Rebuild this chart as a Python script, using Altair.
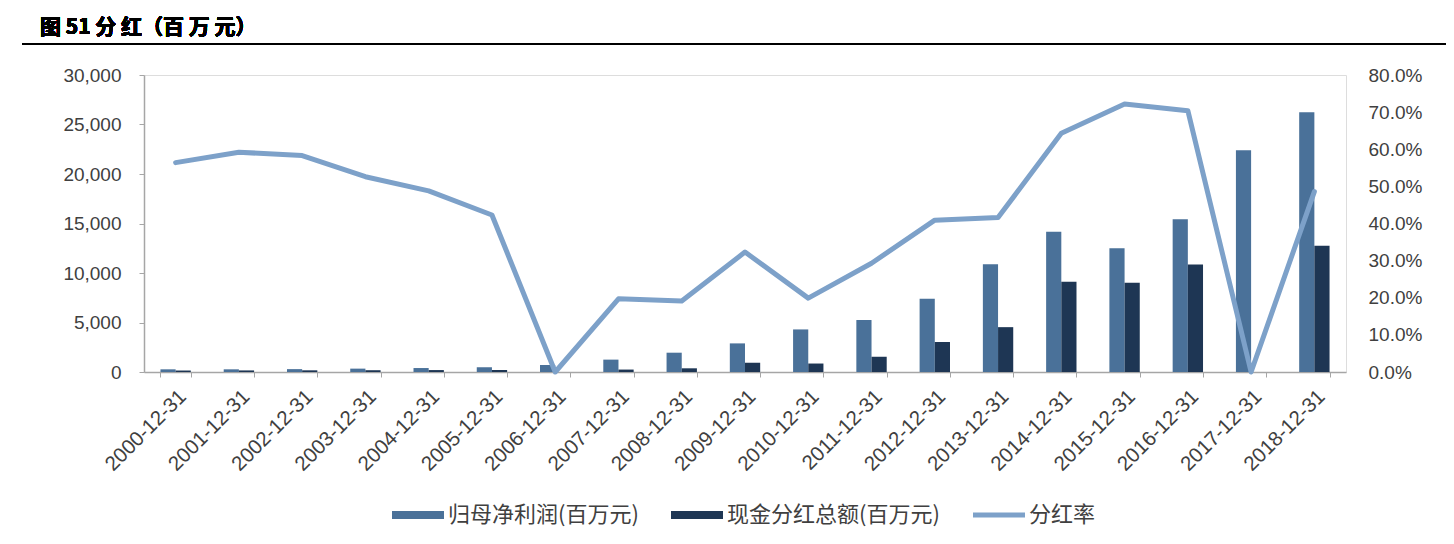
import altair as alt
import pandas as pd

# Categories and series
years = ["2000-12-31", "2001-12-31", "2002-12-31", "2003-12-31", "2004-12-31",
         "2005-12-31", "2006-12-31", "2007-12-31", "2008-12-31", "2009-12-31",
         "2010-12-31", "2011-12-31", "2012-12-31", "2013-12-31", "2014-12-31",
         "2015-12-31", "2016-12-31", "2017-12-31", "2018-12-31"]
net_profit = [270, 270, 290, 340, 400, 480, 710, 1250, 1950, 2890,
              4300, 5250, 7400, 10880, 14170, 12490, 15420, 22390, 26230]
cash_dividend = [150, 160, 170, 180, 195, 200, 0, 246, 373, 935,
                 856, 1540, 3030, 4530, 9110, 9020, 10860, 0, 12750]
payout_ratio = [0.564, 0.592, 0.583, 0.526, 0.488, 0.423, 0.0, 0.197, 0.191, 0.323,
                0.199, 0.293, 0.409, 0.416, 0.643, 0.722, 0.704, 0.0, 0.486]

bar_names = ["归母净利润(百万元)", "现金分红总额(百万元)"]
bar_colors = ["#4a7199", "#1e3654"]
line_name = "分红率"
line_color = "#7da1c9"
heading = "图 51 分 红（百 万 元）"

bars_df = pd.concat([
    pd.DataFrame({"year": years, "value": net_profit, "series": bar_names[0]}),
    pd.DataFrame({"year": years, "value": cash_dividend, "series": bar_names[1]}),
])
line_df = pd.DataFrame({"year": years, "ratio": payout_ratio, "series": line_name})

NUM_FONT = "Liberation Sans"
CJK_FONT = "Noto Sans CJK SC"
AXIS_GREY = "#a6a6a6"
LABEL_GREY = "#404040"

legend_common = dict(title=None, orient="none", direction="horizontal",
                     symbolSize=2704, symbolStrokeWidth=0, symbolOpacity=1,
                     labelFont=CJK_FONT, labelFontSize=22, labelColor=LABEL_GREY,
                     labelLimit=400, labelOffset=4, columnPadding=32)

x_enc = alt.X("year:N", sort=years, title=None,
              scale=alt.Scale(paddingInner=0.52, paddingOuter=0.26),
              axis=alt.Axis(labelAngle=-45, labelFont=NUM_FONT, labelFontSize=20.5,
                            labelColor=LABEL_GREY, labelPadding=9,
                            domainColor=AXIS_GREY, domainWidth=1.5,
                            tickColor=AXIS_GREY, tickBand="extent", tickSize=5))

bars = alt.Chart(bars_df).mark_bar().encode(
    x=x_enc,
    xOffset=alt.XOffset("series:N", sort=bar_names),
    y=alt.Y("value:Q", title=None,
            scale=alt.Scale(domain=[0, 30000]),
            axis=alt.Axis(values=[0, 5000, 10000, 15000, 20000, 25000, 30000],
                          format=",.0f", grid=False, labelFont=NUM_FONT, labelFontSize=19,
                          labelColor=LABEL_GREY, labelPadding=18,
                          domainColor=AXIS_GREY, domainWidth=1.5,
                          tickColor=AXIS_GREY, tickSize=5)),
    color=alt.Color("series:N", scale=alt.Scale(domain=bar_names, range=bar_colors),
                    legend=alt.Legend(legendX=248, legendY=414,
                                      symbolType="M-1,-0.15H1V0.15H-1Z",
                                      **legend_common)),
)

line = alt.Chart(line_df).mark_line(strokeWidth=5, strokeCap="round",
                                    strokeJoin="round").encode(
    x=alt.X("year:N", sort=years),
    y=alt.Y("ratio:Q", title=None,
            scale=alt.Scale(domain=[0, 0.8]),
            axis=alt.Axis(orient="right", values=[0, 0.1, 0.2, 0.3, 0.4, 0.5, 0.6, 0.7, 0.8],
                          format=".1%", grid=False, domain=False, ticks=False,
                          labelFont=NUM_FONT, labelFontSize=19, labelColor=LABEL_GREY,
                          labelPadding=22)),
    stroke=alt.Stroke("series:N", scale=alt.Scale(domain=[line_name], range=[line_color]),
                      legend=alt.Legend(legendX=829, legendY=414,
                                        symbolType="M-1,-0.1H1V0.1H-1Z",
                                        symbolFillColor=line_color,
                                        **legend_common)),
)

# heading text and underline above the plot
title_text = alt.Chart(line_df).mark_text(
    align="left", baseline="alphabetic", font=CJK_FONT, fontSize=21,
    fontWeight="bold", color="#000000").encode(
    x=alt.value(-104), y=alt.value(-41), text=alt.value(heading))

underline = alt.Chart(line_df).mark_rule(color="#000000", strokeWidth=2).encode(
    x=alt.value(-122), x2=alt.value(1310), y=alt.value(-31))

chart = alt.layer(bars, line, title_text, underline).resolve_scale(y="independent").properties(
    width=1202, height=297,
    autosize=alt.AutoSizeParams(type="none"),
    padding={"left": 136, "top": 67, "right": 100, "bottom": 164},
).configure_view(stroke=None).configure(background="#ffffff")

chart.save("out.html", embed_options={"renderer": "svg", "actions": False})
